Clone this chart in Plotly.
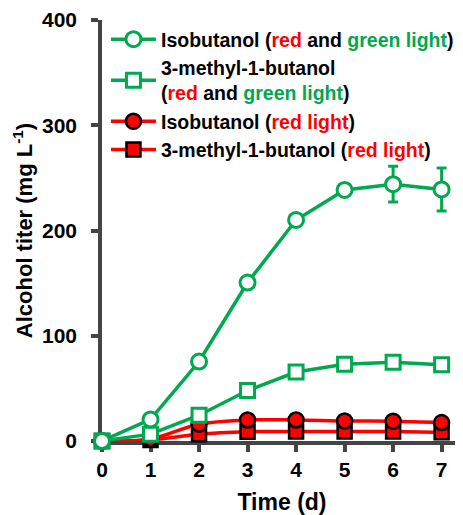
import plotly.graph_objects as go

days = [0, 1, 2, 3, 4, 5, 6, 7]
iso_rg = [0, 20.5, 75.5, 150.5, 210, 238.5, 244, 239]
iso_rg_err = [0, 1.5, 1.5, 4, 2, 4.5, 17, 20.5]
mb_rg = [0, 6.5, 24.5, 48, 65.5, 73, 74.8, 72.5]
mb_rg_err = [0, 0.5, 1, 1.5, 1.5, 1.5, 1.5, 1.5]
iso_r = [0, 2, 16, 20, 20, 19, 18.8, 17.5]
mb_r = [0, 1, 6.5, 8.8, 9, 9, 9, 8.2]
y_ticks = [0, 100, 200, 300, 400]

GREEN = "#00A94F"
RED = "#FF0000"
AX = "#444444"
FONT = "Liberation Sans, Arial, sans-serif"

name_iso_rg = ('Isobutanol (<span style="color:#FF0000">red</span> and '
               '<span style="color:#00A94F">green light</span>)')
name_mb_rg = ('3-methyl-1-butanol<br>(<span style="color:#FF0000">red</span> and '
              '<span style="color:#00A94F">green light</span>)')
name_iso_r = 'Isobutanol (<span style="color:#FF0000">red light</span>)'
name_mb_r = '3-methyl-1-butanol (<span style="color:#FF0000">red light</span>)'

fig = go.Figure()

fig.add_trace(go.Scatter(
    x=days, y=mb_r, name=name_mb_r, mode="lines+markers", legendrank=4,
    line=dict(color=RED, width=3.5, shape="spline"),
    marker=dict(symbol="square", size=14, color=RED, line=dict(color="black", width=2.5)),
    cliponaxis=False))
fig.add_trace(go.Scatter(
    x=days, y=iso_r, name=name_iso_r, mode="lines+markers", legendrank=3,
    line=dict(color=RED, width=3.5, shape="spline"),
    marker=dict(symbol="circle", size=15, color=RED, line=dict(color="black", width=2.5)),
    cliponaxis=False))
fig.add_trace(go.Scatter(
    x=days, y=mb_rg, name=name_mb_rg, mode="lines+markers", legendrank=2,
    line=dict(color=GREEN, width=3.5),
    marker=dict(symbol="square", size=14, color="white", line=dict(color=GREEN, width=3)),
    error_y=dict(type="data", array=mb_rg_err, color=GREEN, thickness=3, width=5),
    cliponaxis=False))
fig.add_trace(go.Scatter(
    x=days, y=iso_rg, name=name_iso_rg, mode="lines+markers", legendrank=1,
    line=dict(color=GREEN, width=3.5),
    marker=dict(symbol="circle", size=15, color="white", line=dict(color=GREEN, width=3)),
    error_y=dict(type="data", array=iso_rg_err, color=GREEN, thickness=3, width=5),
    cliponaxis=False))

fig.update_layout(
    width=455, height=507,
    margin=dict(l=94, r=1, t=12, b=74, autoexpand=False),
    paper_bgcolor="white", plot_bgcolor="white",
    font=dict(family=FONT, color="black"),
    showlegend=True,
    legend=dict(x=0.011, y=1.0, xanchor="left", yanchor="top", itemwidth=45,
                bgcolor="rgba(0,0,0,0)",
                font=dict(size=19.5, family=FONT, color="black", weight="bold")),
    xaxis=dict(range=[0, 7.42], tickvals=days,
               showgrid=False, zeroline=False, showline=True, linecolor=AX, linewidth=3.5,
               ticks="outside", ticklen=7, tickwidth=3.5, tickcolor=AX,
               tickfont=dict(size=21, family=FONT, color="black", weight="bold"),
               title=dict(text="Time (d)", font=dict(size=23, family=FONT, weight="bold"), standoff=16),
               layer="below traces"),
    yaxis=dict(range=[0, 400], tickvals=y_ticks,
               showgrid=False, zeroline=False, showline=True, linecolor=AX, linewidth=3.5,
               ticks="outside", ticklen=7, tickwidth=3.5, tickcolor=AX,
               tickfont=dict(size=21, family=FONT, color="black", weight="bold"),
               ticklabelstandoff=10,
               title=dict(text="Alcohol titer (mg L<sup>-1</sup>)", font=dict(size=22, family=FONT, weight="bold"), standoff=4),
               layer="below traces"),
)

fig.write_html("out.html")
